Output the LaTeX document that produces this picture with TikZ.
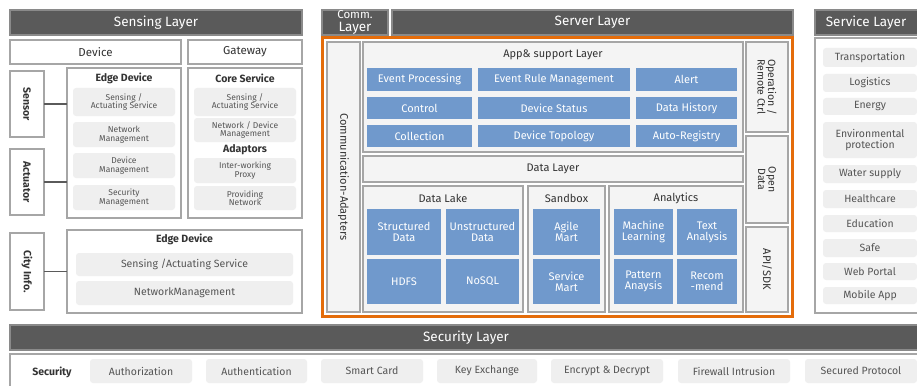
\documentclass[tikz,border=0pt]{standalone}
\usepackage{fontspec}
\setmainfont{Fira Sans}
\definecolor{hdrgray}{HTML}{5A5A5A}
\definecolor{hdrline}{HTML}{8A8A8A}
\definecolor{boxgray}{HTML}{A6A6A6}
\definecolor{lightfill}{HTML}{EFEFEF}
\definecolor{panefill}{HTML}{F4F4F4}
\definecolor{blueC}{HTML}{7099CC}
\definecolor{orangeC}{HTML}{E46C0A}
\definecolor{txtgray}{HTML}{555555}
\definecolor{txtdark}{HTML}{333333}
\newcommand\fs[1]{\fontsize{#1}{#1}\selectfont}
\newcommand\bx[7][]{\node[#1, minimum width={(#4-#2)*1pt}, minimum height={(#5-#3)*1pt}] (#6) at ({(#2+#4)/2},{(#3+#5)/2}) {#7};}
\tikzset{
  every node/.style={inner sep=0pt, outer sep=0pt},
  hdr/.style={fill=hdrgray, draw=hdrline, line width=1.2pt, text=white, font=\fs{13.5}},
  frm/.style={draw=boxgray, line width=1.6pt, fill=white, text=txtdark},
  pane/.style={draw=boxgray, line width=1.6pt, fill=panefill, text=txtdark},
  gbox/.style={fill=lightfill, rounded corners=3pt, text=txtgray, align=center, font=\fs{8.5}},
  gboxb/.style={fill=lightfill, rounded corners=3pt, text=txtgray, align=center, font=\fs{10.5}},
  blue/.style={fill=blueC, text=white, align=center, font=\fs{11}},
  ttl/.style={text=txtdark, font=\fs{11}},
  bttl/.style={text=txtdark, font=\bfseries\fs{10.5}},
  conn/.style={draw=hdrgray, line width=1.2pt},
}
\begin{document}
\begin{tikzpicture}[x=1pt,y=-1pt]
\useasboundingbox (0,0) rectangle (917,385);
\clip (0,0) rectangle (917,385);
\fill[white] (0,0) rectangle (917,385);

% ---------------- Sensing layer ----------------
\bx[hdr]{10}{10}{302}{35}{sensHdr}{Sensing Layer}
\bx[frm,font=\fs{11.5}]{10}{40}{181}{64}{device}{Device}
\bx[frm,font=\fs{11.5}]{188}{40}{302}{64}{gateway}{Gateway}

\bx[frm]{10}{71}{44}{137}{sensor}{}
\node[rotate=-90, font=\bfseries\fs{10.5}, text=txtdark] (sensorT) at (sensor) {Sensor};
\bx[frm]{10}{149}{44}{215}{actuator}{}
\node[rotate=-90, font=\bfseries\fs{10.5}, text=txtdark] (actuatorT) at (actuator) {Actuator};

\bx[frm]{67}{68}{181}{218}{edge1}{}
\node[bttl] (edge1T) at (124,78) {Edge Device};
\bx[gbox]{73}{88}{175}{116}{e1a}{Sensing /\\Actuating Service}
\bx[gbox]{73}{122}{175}{147}{e1b}{Network\\Management}
\bx[gbox]{73}{153}{175}{178}{e1c}{Device\\Management}
\bx[gbox]{73}{185}{175}{210}{e1d}{Security\\Management}

\bx[frm]{188}{68}{302}{218}{core}{}
\node[bttl] (coreT) at (245,78) {Core Service};
\bx[gbox]{194}{88}{296}{116}{c1a}{Sensing /\\Actuating Service}
\bx[gbox]{194}{118}{296}{142}{c1b}{Network / Device\\Management}
\node[bttl] (adaptT) at (245,150) {Adaptors};
\bx[gbox]{194}{158}{296}{183}{c1c}{Inter-working\\Proxy}
\bx[gbox]{194}{186}{296}{210}{c1d}{Providing\\Network}

\draw[conn] (sensor.east) -- (sensor.east -| edge1.west);
\draw[conn] (actuator.east) -- (actuator.east -| edge1.west);

\bx[frm]{10}{233}{44}{310}{city}{}
\node[rotate=-90, font=\bfseries\fs{10.5}, text=txtdark] (cityT) at (city) {City Info.};
\bx[frm]{67}{230}{302}{313}{edge2}{}
\node[bttl] (edge2T) at (184.5,239) {Edge Device};
\bx[gboxb]{76}{253}{293}{276}{e2a}{Sensing /Actuating Service}
\bx[gboxb]{76}{281}{293}{305}{e2b}{NetworkManagement}
\draw[conn] (city.east) -- (city.east -| edge2.west);

% ---------------- Server layer ----------------
\bx[hdr,align=center]{322}{10}{388}{35}{commHdr}{\fontsize{11.5}{9.5}\selectfont Comm.\\Layer}
\bx[hdr]{392}{10}{793}{35}{servHdr}{Server Layer}
\draw[orangeC, line width=3pt] (322,38) rectangle (792,316);

\bx[pane]{327}{42}{360}{312}{commAd}{}
\node[rotate=-90, ttl] (commAdT) at (commAd) {Communication-Adapters};

\bx[pane]{363}{42}{743}{152}{app}{}
\node[ttl] (appT) at (553,55) {App\& support Layer};
\bx[blue]{367}{68}{472}{91}{b11}{Event Processing}
\bx[blue]{478}{68}{630}{91}{b12}{Event Rule Management}
\bx[blue]{636}{68}{737}{91}{b13}{Alert}
\bx[blue]{367}{97}{472}{119}{b21}{Control}
\bx[blue]{478}{97}{630}{119}{b22}{Device Status}
\bx[blue]{636}{97}{737}{119}{b23}{Data History}
\bx[blue]{367}{125}{472}{147}{b31}{Collection}
\bx[blue]{478}{125}{630}{147}{b32}{Device Topology}
\bx[blue]{636}{125}{737}{147}{b33}{Auto-Registry}

\bx[pane,font=\fs{11}]{363}{156}{743}{182}{dataL}{Data Layer}

\bx[pane]{363}{186}{523}{312}{lake}{}
\node[ttl] (lakeT) at (443,198) {Data Lake};
\bx[blue]{367}{209}{441}{255}{l1}{Structured\\Data}
\bx[blue]{446}{209}{519}{255}{l2}{Unstructured\\Data}
\bx[blue]{367}{259}{441}{304}{l3}{HDFS}
\bx[blue]{446}{259}{519}{304}{l4}{NoSQL}

\bx[pane]{528}{186}{605}{312}{sand}{}
\node[ttl] (sandT) at (566.5,198) {Sandbox};
\bx[blue]{533}{209}{600}{255}{s1}{Agile\\Mart}
\bx[blue]{533}{259}{600}{304}{s2}{Service\\Mart}

\bx[pane]{609}{186}{743}{312}{anal}{}
\node[ttl] (analT) at (676,198) {Analytics};
\bx[blue]{614}{209}{673}{255}{a1}{Machine\\Learning}
\bx[blue]{677}{209}{737}{255}{a2}{Text\\Analysis}
\bx[blue]{614}{259}{673}{304}{a3}{Pattern\\Anaysis}
\bx[blue]{677}{259}{737}{304}{a4}{Recom\\-mend}

\bx[pane]{746}{42}{788}{132}{oper}{}
\node[rotate=-90, ttl, align=center, font=\fontsize{10.5}{10.5}\selectfont] (operT) at (oper) {Operation /\\Remote Ctrl};
\bx[pane]{746}{136}{788}{223}{open}{}
\node[rotate=-90, ttl, align=center, font=\fontsize{10.5}{10.5}\selectfont] (openT) at (open) {Open\\Data};
\bx[pane]{746}{227}{788}{312}{api}{}
\node[rotate=-90, ttl] (apiT) at (api) {API/SDK};

% ---------------- Service layer ----------------
\bx[hdr]{815}{10}{922}{35}{svcHdr}{\hspace*{-2pt}Service Layer\hspace*{3pt}}
\bx[frm]{815}{38}{922}{313}{svc}{}
\bx[gboxb]{823}{48}{917}{67}{v1}{Transportation}
\bx[gboxb]{823}{74}{917}{92}{v2}{Logistics}
\bx[gboxb]{823}{98}{917}{115}{v3}{Energy}
\bx[gboxb]{823}{122}{917}{158}{v4}{Environmental\\protection}
\bx[gboxb]{823}{165}{917}{183}{v5}{Water supply}
\bx[gboxb]{823}{190}{917}{208}{v6}{Healthcare}
\bx[gboxb]{823}{215}{917}{232}{v7}{Education}
\bx[gboxb]{823}{239}{917}{257}{v8}{Safe}
\bx[gboxb]{823}{263}{917}{280}{v9}{Web Portal}
\bx[gboxb]{823}{287}{917}{304}{v10}{Mobile App}

% ---------------- Security layer ----------------
\bx[hdr]{10}{325}{922}{350}{secHdr}{Security Layer}
\bx[frm]{10}{354}{922}{392}{sec}{}
\node[font=\bfseries\fs{10.5}, text=txtdark] (secT) at (52,372) {Security};
\bx[gboxb]{90}{359}{192}{383}{k1}{Authorization}
\bx[gboxb]{206}{359}{307}{383}{k2}{Authentication}
\bx[gboxb]{321}{359}{423}{383}{k3}{Smart Card}
\bx[gboxb]{437}{359}{537}{383}{k4}{Key Exchange}
\bx[gboxb]{551}{359}{663}{383}{k5}{Encrypt \& Decrypt}
\bx[gboxb]{678}{359}{790}{383}{k6}{Firewall Intrusion}
\bx[gboxb]{805}{359}{917}{383}{k7}{Secured Protocol}
\end{tikzpicture}
\end{document}
